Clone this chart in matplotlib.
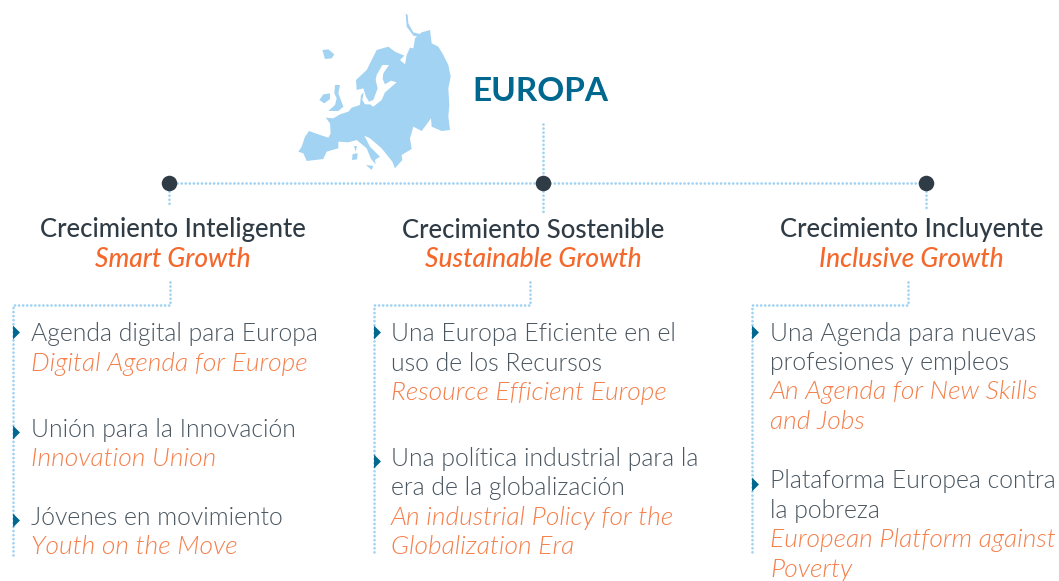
import matplotlib
matplotlib.use("Agg")
import matplotlib.pyplot as plt
from matplotlib.patches import Polygon

BLUE = "#a3d3f2"
DARK = "#2f3b45"
GREY = "#4a5660"
ORANGE = "#f4682c"
LIGHT_ORANGE = "#f47f4a"
TEAL = "#00678f"

plt.rcParams["font.family"] = ["Lato", "DejaVu Sans"]

# outlines, in zoom-crop pixels
europe = [(40,440),(50,425),(60,395),(72,378),(100,388),(130,398),(137,385),(135,355),(122,338),
          (145,340),(165,328),(190,320),(200,308),(225,300),(228,270),(236,262),(232,285),(240,298),
          (255,298),(265,305),(290,285),(300,262),(335,232),(318,227),(300,238),(293,222),(295,205),
          (312,180),(292,180),(275,210),(272,225),(278,250),(265,285),(252,290),(243,275),(235,250),
          (215,255),(213,225),(245,195),(260,165),(275,135),(310,125),(330,140),(358,152),(345,165),
          (360,178),(365,150),(375,128),(385,130),(390,100),(410,82),(435,75),(440,115),(460,125),
          (475,150),(490,180),(497,215),(490,250),(493,300),(490,335),(495,375),(470,378),(440,365),
          (438,340),(410,378),(385,365),(375,400),(380,432),(350,450),(352,465),(330,490),(322,470),
          (290,430),(255,400),(238,392),(255,425),(285,455),(270,465),(272,478),(258,462),(245,430),
          (215,405),(190,412),(160,410),(160,430),(125,440),(115,462),(65,468),(55,445)]
novaya = [(362,25),(368,30),(370,55),(385,82),(408,88),(400,95),(385,92),(365,65)]
britain = [(150,240),(165,240),(160,265),(175,305),(160,318),(130,318),(150,300),(155,280),(148,265)]
ireland = [(103,285),(115,268),(135,265),(135,282),(118,295)]
iceland = [(112,135),(130,133),(148,148),(140,160),(120,162)]
corsica = [(207,423),(216,423),(212,440)]
sardinia = [(203,447),(218,445),(216,463),(201,465)]
sicily = [(243,480),(265,483),(260,495)]
map_shapes = [europe, novaya, britain, ireland, iceland, corsica, sardinia, sicily]

node_x = [169, 543, 926]
heading_x = [173, 533.5, 912]
headings = ["Crecimiento Inteligente", "Crecimiento Sostenible", "Crecimiento Incluyente"]
subheadings = ["Smart Growth", "Sustainable Growth", "Inclusive Growth"]
heading_y = [237, 238, 237]
list_x = [13, 374, 752]
text_x = [31, 391, 770]
elbow_x = [170, 530, 908]

col1 = [("Agenda digital para Europa", 341, 0), ("Digital Agenda for Europe", 371, 1),
        ("Unión para la Innovación", 437, 0), ("Innovation Union", 466, 1),
        ("Jóvenes en movimiento", 525, 0), ("Youth on the Move", 554, 1)]
col2 = [("Una Europa Eficiente en el", 341, 0), ("uso de los Recursos", 371, 0),
        ("Resource Efficient Europe", 400, 1), ("Una política industrial para la", 466, 0),
        ("era de la globalización", 495, 0), ("An industrial Policy for the", 525, 1),
        ("Globalization Era", 554, 1)]
col3 = [("Una Agenda para nuevas", 341, 0), ("profesiones y empleos", 370, 0),
        ("An Agenda for New Skills", 399, 1), ("and Jobs", 429, 1),
        ("Plataforma Europea contra", 488, 0), ("la pobreza", 518, 0),
        ("European Platform against", 547, 1), ("Poverty", 577, 1)]
columns = [col1, col2, col3]
arrows = [[332, 432, 520], [332, 461], [332, 484]]
arrow_marker = [(-0.5, -1), (0.5, 0), (-0.5, 1)]

fig = plt.figure(figsize=(10.59, 5.81), dpi=100)
ax = fig.add_axes([0, 0, 1, 1])
ax.set_xlim(0, 1059)
ax.set_ylim(581, 0)
ax.axis("off")


def dotted(xs, ys):
    ax.plot(xs, ys, color=BLUE, lw=2.0, ls=(0, (0.01, 1.45)), dash_capstyle="round", zorder=1)


for shape in map_shapes:
    pts = [(285 + x / 3, 5 + y / 3) for x, y in shape]
    ax.add_patch(Polygon(pts, closed=True, fc=BLUE, ec="none"))

ax.text(472, 101, "EUROPA", color=TEAL, fontsize=24, fontweight="bold", va="baseline")

dotted([node_x[0], node_x[2]], [183, 183])
dotted([543, 543], [124, 183])
dotted([543, 543], [183, 212])
dotted([169, 169], [183, 205])
dotted([926, 926], [183, 208])
ax.scatter(node_x, [183] * 3, s=125, color=DARK, zorder=3, linewidths=0)

for i in range(3):
    ax.text(heading_x[i], heading_y[i], headings[i], color=DARK, fontsize=18.5, fontweight=500,
            ha="center", va="baseline")
    ax.text(heading_x[i] - 0.5, 267, subheadings[i], color=ORANGE, fontsize=19, style="italic",
            fontweight=500, ha="center", va="baseline")
    dotted([elbow_x[i], elbow_x[i], list_x[i], list_x[i]], [282, 305, 305, 555])
    for label, y, is_english in columns[i]:
        ax.text(text_x[i], y, label, fontsize=19 if is_english else 17.8, va="baseline", fontweight=300,
                color=LIGHT_ORANGE if is_english else GREY, style="italic" if is_english else "normal")
    ax.scatter([list_x[i] + 2.5] * len(arrows[i]), arrows[i], marker=arrow_marker, s=100, color=TEAL,
               zorder=3, linewidths=0)

fig.savefig("out.png", dpi=100)
